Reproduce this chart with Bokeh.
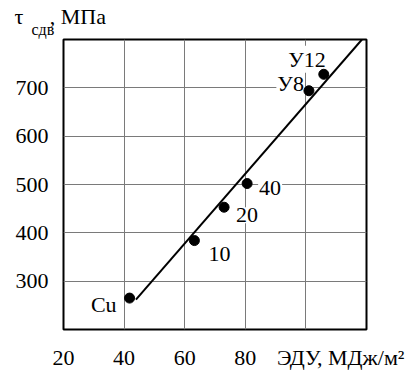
from bokeh.plotting import figure
from bokeh.models import Range1d, FixedTicker, Title
from bokeh.core.properties import value
from bokeh.embed import file_html
from bokeh.resources import INLINE

# data
names = ["Cu", "10", "20", "40", "У8", "У12"]
edu = [41.8, 63.2, 73.0, 80.6, 101.0, 105.9]
tau = [265, 384, 453, 502, 694, 728]
fit_x = [43.9, 118.5]
fit_y = [262, 800]
grid_x = [20, 40, 60, 80, 100, 120]
x_label_ticks = [20, 40, 60, 80, 111.5]
y_ticks = [200, 300, 400, 500, 600, 700, 800]
x_title = "ЭДУ, МДж/м²"

FONT = "Liberation Serif"

p = figure(width=411, height=372, output_backend="svg", toolbar_location=None,
           x_range=Range1d(20, 120), y_range=Range1d(200, 800),
           min_border_left=63, min_border_right=45, min_border_top=39, min_border_bottom=34)
p.outline_line_color = "black"
p.outline_line_width = 2

p.xaxis.ticker = FixedTicker(ticks=x_label_ticks)
p.xgrid.ticker = FixedTicker(ticks=grid_x)
p.yaxis.ticker = FixedTicker(ticks=y_ticks)
p.xaxis.major_label_overrides = {111.5: x_title}
p.yaxis.major_label_overrides = {200: "", 800: ""}
for ax in (p.xaxis[0], p.yaxis[0]):
    ax.axis_line_color = None
    ax.major_tick_line_color = None
    ax.minor_tick_line_color = None
    ax.major_label_text_font = FONT
    ax.major_label_text_font_size = "22px"
    ax.major_label_text_color = "black"
p.xaxis.major_label_standoff = 9
p.yaxis.major_label_standoff = 9

p.grid.grid_line_color = "#7a7a7a"
p.grid.grid_line_width = 1

# top-left axis title: "τ", subscript "сдв", ", МПа"
p.title.text = "τ\u2002\u2002\u2009, МПа"
p.title.text_font = FONT
p.title.text_font_size = "22px"
p.title.text_font_style = "normal"
p.title.text_color = "black"
p.title.align = "left"
p.title.offset = -49
try:
    p.title.standoff = -25
except Exception:
    pass
sub = Title(text="сдв", text_font=FONT, text_font_size="16px", text_font_style="normal",
            text_color="black", align="left", offset=-32)
try:
    sub.standoff = 4
except Exception:
    pass
p.add_layout(sub, "above")

# point labels (white background hides grid)
specs = [
    (0, "right", -12, 6),
    (1, "left", 13, 13),
    (2, "left", 11, 8),
    (3, "left", 11, 4),
    (4, "right", -4, -7),
    (5, "right", 3, -15),
]
for i, align, dx, dy in specs:
    p.text(x=[edu[i]], y=[tau[i]], text=[names[i]], x_offset=dx, y_offset=dy,
           text_align=align, text_baseline="alphabetic",
           text_font=value(FONT), text_font_size="22px", text_color="black",
           background_fill_color="white", padding=1)

p.line(fit_x, fit_y, line_color="black", line_width=2)
p.scatter(edu, tau, size=10, color="black")

open("out.html", "w").write(file_html(p, INLINE))
